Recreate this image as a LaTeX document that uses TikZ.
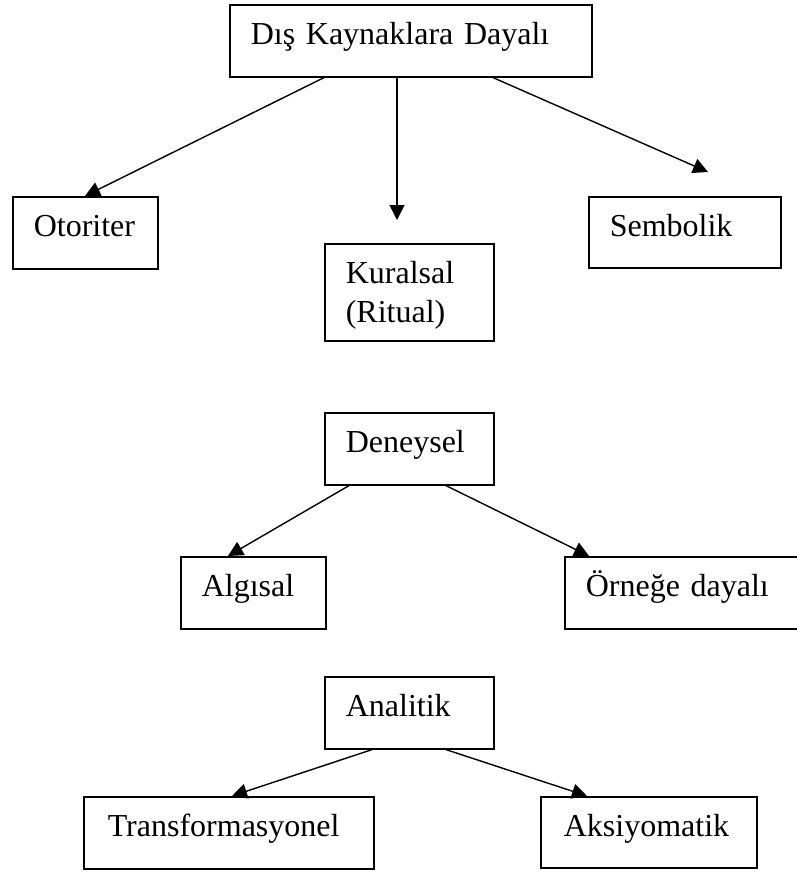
\documentclass[tikz,border=0pt]{standalone}
\usepackage{fontspec}
\setmainfont{Liberation Serif}
\usetikzlibrary{arrows.meta}

\begin{document}
\begin{tikzpicture}[x=1pt,y=-1pt,font=\fontsize{32}{38.4}\selectfont,box/.style={draw,line width=1.6pt,anchor=north west,inner xsep=21pt,inner ysep=0pt,text height=40pt,text depth=32pt,align=left},arrow/.style={-{Triangle[length=15pt,width=15pt]},line width=1.4pt}]
\useasboundingbox (0,0) rectangle (797,873);
\node[box,text width=320pt] (dis) at (229,4) {Dış Kaynaklara Dayalı};
\node[box,text width=103pt] (oto) at (12,196) {Otoriter};
\node[box,text width=127pt,text depth=57pt] (kur) at (324,243) {\begin{tabular}[t]{@{}l@{}}Kuralsal\\(Ritual)\end{tabular}};
\node[box,text width=150pt,text depth=31pt] (sem) at (588,196) {Sembolik};
\node[box,text width=127pt] (den) at (324,412) {Deneysel};
\node[box,text width=103pt] (alg) at (180,556) {Algısal};
\node[box,text width=198pt] (orn) at (564,556) {Örneğe dayalı};
\node[box,text width=127pt] (ana) at (324,676) {Analitik};
\node[box,inner xsep=24pt,text width=242pt] (tra) at (83,796) {Transformasyonel};
\node[box,inner xsep=23pt,text width=170pt,text depth=31pt] (aks) at (540,796) {Aksiyomatik};
\draw[arrow] ([xshift=95pt]dis.south west)--([xshift=73pt]oto.north west);
\draw[arrow] ([xshift=168pt]dis.south west)--([xshift=73pt,yshift=23pt]kur.north west);
\draw[arrow] ([xshift=264pt]dis.south west)--([xshift=120pt,yshift=24pt]sem.north west);
\draw[arrow] ([xshift=25pt]den.south west)--([xshift=48pt]alg.north west);
\draw[arrow] ([xshift=122pt]den.south west)--([xshift=25pt]orn.north west);
\draw[arrow] ([xshift=48pt]ana.south west)--([xshift=149pt]tra.north west);
\draw[arrow] ([xshift=122pt]ana.south west)--([xshift=47pt]aks.north west);
\end{tikzpicture}
\end{document}
